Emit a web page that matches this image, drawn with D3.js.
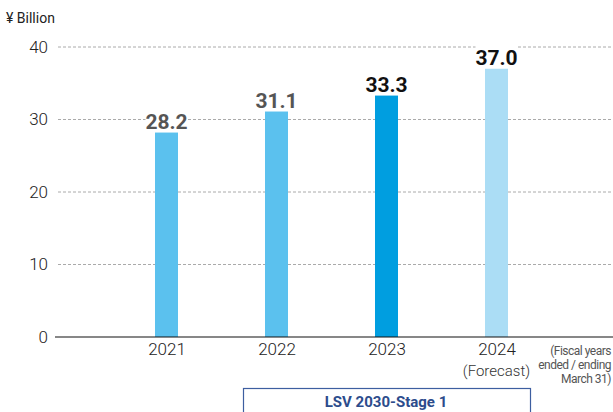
<!DOCTYPE html>
<html>
<head>
<meta charset="utf-8">
<script src="https://cdn.jsdelivr.net/npm/d3@7"></script>
<style>
  html, body { margin: 0; padding: 0; background: #fff; }
  svg { display: block; }
  svg text { font-family: "Roboto", "Liberation Sans", sans-serif; }
</style>
</head>
<body>
<svg id="chart" width="613" height="412"></svg>
<script>
// Net sales by fiscal year (¥ Billion)
const years = ["2021", "2022", "2023", "2024"];
const values = [28.2, 31.1, 33.3, 37.0];
const barColors = ["#5bc1ee", "#5bc1ee", "#009ee0", "#abddf5"];
const labelColors = ["#555555", "#555555", "#111111", "#111111"];
const yTicks = [0, 10, 20, 30, 40];
const subLabels = ["", "", "", "(Forecast)"];
const note = ["(Fiscal years", "ended / ending", "March 31)"];

const FONT = "Roboto, 'Liberation Sans', sans-serif";
const svg = d3.select("#chart");

const x = d3.scalePoint().domain(years).range([166.5, 496.5]);
const y = d3.scaleLinear().domain([0, 40]).range([337, 47]);
const barW = 23;

// Gridlines
svg.append("g")
  .selectAll("line")
  .data(yTicks.filter(d => d > 0))
  .join("line")
  .attr("x1", 58).attr("x2", 613)
  .attr("y1", d => y(d)).attr("y2", d => y(d))
  .attr("stroke", "#aaaaaa")
  .attr("stroke-width", 1)
  .attr("stroke-dasharray", "3,2");

// Y-axis tick labels
const yAxis = d3.axisLeft(y).tickValues(yTicks).tickSize(0).tickPadding(0);
const gy = svg.append("g").attr("transform", "translate(48,0)").call(yAxis)
  .attr("font-family", FONT).attr("font-size", 17);
gy.select(".domain").remove();
gy.selectAll("text")
  .attr("font-weight", 300)
  .attr("fill", "#222");

// Unit label
svg.append("text")
  .attr("x", 6).attr("y", 23)
  .attr("font-family", FONT)
  .attr("font-size", 14)
  .attr("fill", "#222")
  .text("¥ Billion");

// Value label backgrounds (white boxes that break the gridlines)
const labels = svg.append("g");
years.forEach((yr, i) => {
  labels.append("rect")
    .attr("x", x(yr) - 21)
    .attr("y", y(values[i]) - 23)
    .attr("width", 42)
    .attr("height", 21)
    .attr("fill", "#fff");
});

// Bars
svg.append("g")
  .selectAll("rect")
  .data(values)
  .join("rect")
  .attr("x", (d, i) => x(years[i]) - barW / 2)
  .attr("y", d => y(d))
  .attr("width", barW)
  .attr("height", d => y(0) - y(d))
  .attr("fill", (d, i) => barColors[i]);

// Value labels
labels.selectAll("text")
  .data(values)
  .join("text")
  .attr("x", (d, i) => x(years[i]))
  .attr("y", d => y(d) - 4)
  .attr("text-anchor", "middle")
  .attr("font-family", FONT)
  .attr("font-size", 21)
  .attr("font-weight", 700)
  .attr("fill", (d, i) => labelColors[i])
  .text(d => d.toFixed(1));

// X-axis baseline
svg.append("line")
  .attr("x1", 55).attr("x2", 613)
  .attr("y1", y(0)).attr("y2", y(0))
  .attr("stroke", "#111")
  .attr("stroke-width", 1.2);

// X-axis labels
const xAxis = d3.axisBottom(x).tickSize(0).tickPadding(0);
const gx = svg.append("g").attr("transform", `translate(0,${y(0) + 6})`).call(xAxis)
  .attr("font-family", FONT).attr("font-size", 17);
gx.select(".domain").remove();
gx.selectAll("text")
  .attr("font-weight", 300)
  .attr("fill", "#222");

svg.append("g")
  .selectAll("text")
  .data(subLabels)
  .join("text")
  .attr("x", (d, i) => x(years[i]))
  .attr("y", 376)
  .attr("text-anchor", "middle")
  .attr("font-family", FONT)
  .attr("font-size", 15)
  .attr("font-weight", 300)
  .attr("fill", "#333")
  .text(d => d);

// Fiscal-year note
svg.append("g")
  .selectAll("text")
  .data(note)
  .join("text")
  .attr("x", 611)
  .attr("y", (d, i) => 355 + i * 14)
  .attr("text-anchor", "end")
  .attr("font-family", FONT)
  .attr("font-size", 12)
  .attr("letter-spacing", -0.5)
  .attr("fill", "#555")
  .text(d => d);

// Plan period box
svg.append("rect")
  .attr("x", 243.5).attr("y", 388.5)
  .attr("width", 287).attr("height", 40)
  .attr("fill", "none")
  .attr("stroke", "#3d5ea0")
  .attr("stroke-width", 1.2);

svg.append("text")
  .attr("x", 386).attr("y", 407)
  .attr("text-anchor", "middle")
  .attr("font-family", FONT)
  .attr("font-size", 15)
  .attr("font-weight", 700)
  .attr("fill", "#2c4c8c")
  .text("LSV 2030-Stage 1");
</script>
</body>
</html>
